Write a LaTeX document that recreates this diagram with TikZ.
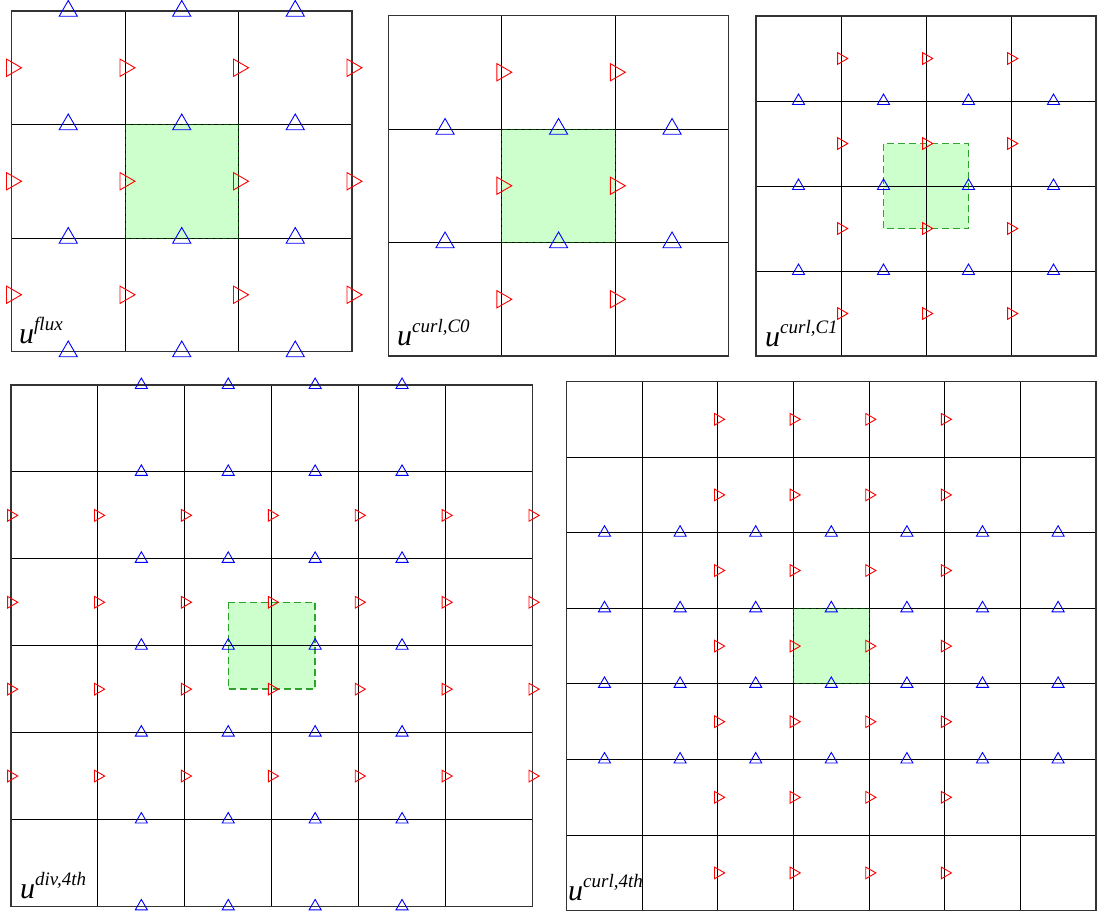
\documentclass[tikz,border=0pt]{standalone}
\usepackage{fontspec}
\setmainfont{Liberation Serif}
\usetikzlibrary{shapes.geometric}
\definecolor{cellgreen}{HTML}{CCFFCC}
\tikzset{
  gridline/.style={draw=black, line width=1pt},
  frameline/.style={draw=black!80, line width=1.2pt},
  rtri/.style={regular polygon, regular polygon sides=3, shape border rotate=-90, draw=red, line width=0.9pt, inner sep=0pt},
  btri/.style={regular polygon, regular polygon sides=3, draw=blue, line width=0.9pt, inner sep=0pt},
  darkcell/.style={fill=cellgreen, draw=green!25!black, line width=0.9pt, dash pattern=on 5pt off 2pt},
  lightcell/.style={fill=cellgreen, draw=green!55!black, line width=1.5pt, dash pattern=on 7pt off 4pt, draw opacity=0.8},
  lab/.style={anchor=base west, inner sep=0pt}
}
\newcommand\mkgrid[4]{%
  \foreach \k in {1,...,\numexpr#4-1\relax}{%
    \draw[gridline] ({#1+\k*#3},#2) -- ({#1+\k*#3},{#2+#4*#3});
    \draw[gridline] (#1,{#2+\k*#3}) -- ({#1+#4*#3},{#2+\k*#3});
  }%
}
\newcommand\mkframe[4]{\draw[frameline] (#1,#2) rectangle ({#1+#4*#3},{#2+#4*#3});}
\newcommand\redtris[7]{\foreach \i in {#4}{\foreach \j in {#5}{%
  \node[rtri, minimum size=#6] (#7r\i\j) at ({#1+\i*#3},{#2+(\j+0.5)*#3}) {};}}}
\newcommand\bluetris[7]{\foreach \i in {#4}{\foreach \j in {#5}{%
  \node[btri, minimum size=#6] (#7b\i\j) at ({#1+(\i+0.5)*#3},{#2+\j*#3}) {};}}}
\newcommand\ulab[1]{{\fontsize{30}{30}\selectfont\itshape u}\raisebox{13pt}{\fontsize{19}{19}\selectfont\itshape #1}}
\begin{document}
\begin{tikzpicture}[x=1pt,y=-1pt]
\useasboundingbox (0,0) rectangle (1098,914);
% ---------- panel 1: u^flux ----------
\fill[cellgreen] (125,124.5) rectangle (238.5,238);
\mkgrid{11.5}{11}{113.5}{3}
\draw[darkcell, fill=none] (125,124.5) rectangle (238.5,238);
\mkframe{11.5}{11}{113.5}{3}
\redtris{11.5}{11}{113.5}{0,1,2,3}{0,1,2}{20}{a}
\bluetris{11.5}{11}{113.5}{0,1,2}{0,1,2,3}{21}{a}
\node[lab] (la) at (19,343) {\ulab{flux}};
% ---------- panel 2: u^{curl,C0} ----------
\fill[cellgreen] (501.8,129) rectangle (615.3,242.5);
\mkgrid{388.3}{15.5}{113.5}{3}
\draw[darkcell, fill=none] (501.8,129) rectangle (615.3,242.5);
\mkframe{388.3}{15.5}{113.5}{3}
\redtris{388.3}{15.5}{113.5}{1,2}{0,1,2}{20}{b}
\bluetris{388.3}{15.5}{113.5}{0,1,2}{1,2}{21}{b}
\node[lab] (lb) at (397,345) {\ulab{curl,C0}};
% ---------- panel 3: u^{curl,C1} ----------
\fill[cellgreen] (883.5,143.5) rectangle (968.5,228.5);
\mkgrid{756}{16}{85}{4}
\draw[lightcell, fill=none] (883.5,143.5) rectangle (968.5,228.5);
\mkframe{756}{16}{85}{4}
\redtris{756}{16}{85}{1,2,3}{0,1,2,3}{13.5}{c}
\bluetris{756}{16}{85}{0,1,2,3}{1,2,3}{14}{c}
\node[lab] (lc) at (765,346) {\ulab{curl,C1}};
% ---------- panel 4: u^{div,4th} ----------
\fill[cellgreen] (228.3,602.3) rectangle (315.2,689.2);
\mkgrid{11}{385}{86.9}{6}
\draw[lightcell, fill=none] (228.3,602.3) rectangle (315.2,689.2);
\mkframe{11}{385}{86.9}{6}
\redtris{11}{385}{86.9}{0,...,6}{1,...,4}{13.5}{d}
\bluetris{11}{385}{86.9}{1,...,4}{0,...,6}{14}{d}
\node[lab] (ld) at (20,898) {\ulab{div,4th}};
% ---------- panel 5: u^{curl,4th} ----------
\fill[cellgreen] (793.5,608.3) rectangle (869.1,683.9);
\mkgrid{566.7}{381.5}{75.6}{7}
\draw[darkcell, fill=none] (793.5,608.3) rectangle (869.1,683.9);
\mkframe{566.7}{381.5}{75.6}{7}
\redtris{566.7}{381.5}{75.6}{2,...,5}{0,...,6}{13.5}{e}
\bluetris{566.7}{381.5}{75.6}{0,...,6}{2,...,5}{14}{e}
\node[lab] (le) at (568,900) {\ulab{curl,4th}};
\end{tikzpicture}
\end{document}
